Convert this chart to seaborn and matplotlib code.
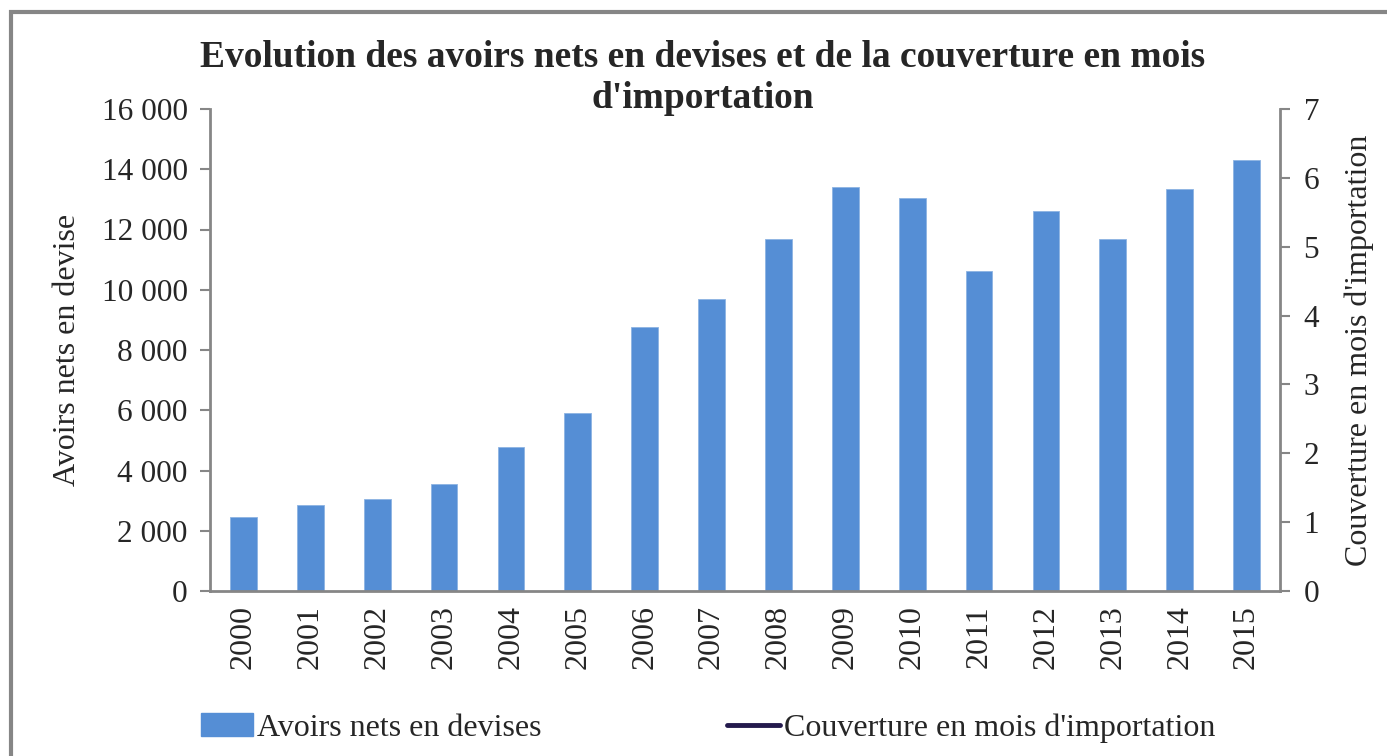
import numpy as np
import pandas as pd
import matplotlib
matplotlib.use("Agg")
import matplotlib.pyplot as plt
from matplotlib.lines import Line2D
from matplotlib.patches import Patch, Rectangle
from matplotlib.ticker import FuncFormatter, MultipleLocator
import seaborn as sns

# Data
years = [str(y) for y in range(2000, 2016)]
avoirs = [2450, 2850, 3050, 3540, 4770, 5900, 8750, 9680,
          11700, 13400, 13050, 10630, 12620, 11700, 13340, 14300]
# coverage series is not visible on the chart, only its legend entry
couverture = []

bar_color = "#558ED5"
axis_gray = "#868686"
line_color = "#241A4D"

sns.set_style("white")
plt.rcParams["font.family"] = ["Liberation Serif", "DejaVu Serif"]

df = pd.DataFrame({"annee": years, "avoirs": avoirs})

fig = plt.figure(figsize=(13.87, 7.56), dpi=100)
ax = fig.add_axes([210 / 1387, 1 - 591 / 756, (1280 - 210) / 1387, (591 - 109) / 756])

sns.barplot(data=df, x="annee", y="avoirs", color=bar_color, width=0.4,
            edgecolor="#8DB3E2", linewidth=0.6, ax=ax, saturation=1)

ax.set_xlim(-0.5, len(years) - 0.5)
ax.set_ylim(0, 16000)
ax.yaxis.set_major_locator(MultipleLocator(2000))
ax.yaxis.set_major_formatter(FuncFormatter(lambda v, p: f"{int(v):,}".replace(",", " ")))
ax.set_xlabel("")
ax.set_ylabel("Avoirs nets en devise", fontsize=23, labelpad=14)

# x ticks between categories like the original
ax.set_xticks(np.arange(len(years)))
ax.set_xticklabels(years, rotation=90, fontsize=23)
ax.set_xticks(np.arange(-0.5, len(years)), minor=True)
ax.tick_params(axis="x", which="major", length=0, pad=10)
ax.tick_params(axis="x", which="minor", length=8, width=2, color=axis_gray, direction="out")
ax.tick_params(axis="y", labelsize=22.5, length=7, width=1.5, color=axis_gray, direction="out", pad=9)

for side in ["top", "right"]:
    ax.spines[side].set_visible(False)
for side in ["left", "bottom"]:
    ax.spines[side].set_color(axis_gray)
    ax.spines[side].set_linewidth(2)

ax2 = ax.twinx()
ax2.set_ylim(0, 7)
ax2.yaxis.set_major_locator(MultipleLocator(1))
ax2.plot(range(len(couverture)), couverture, color=line_color, linewidth=3)
ax2.tick_params(axis="y", labelsize=22.5, length=7, width=1.5, color=axis_gray, direction="out", pad=10)
ax2.set_ylabel("Couverture en mois d'importation", fontsize=23, labelpad=18)
for side in ["top", "left", "bottom"]:
    ax2.spines[side].set_visible(False)
ax2.spines["right"].set_color(axis_gray)
ax2.spines["right"].set_linewidth(2)

fig.text(703 / 1387, 1 - 78 / 756,
         "Evolution des avoirs nets en devises et de la couverture en mois\nd'importation",
         ha="center", va="center", fontsize=27, fontweight="bold", linespacing=1.25)

handles = [Patch(facecolor=bar_color, edgecolor=bar_color),
           Line2D([0], [0], color=line_color, linewidth=3.5)]
fig.legend(handles, ["Avoirs nets en devises", "Couverture en mois d'importation"],
           loc="center left", bbox_to_anchor=(188 / 1387, 1 - 728 / 756), ncol=2,
           frameon=False, fontsize=23, handlelength=1.65, handletextpad=0.12,
           columnspacing=5.8, borderaxespad=0)

# outer chart frame, cut at the right and bottom
fig.patches.append(Rectangle((11 / 1387, -0.05), 1.1, 1 - 12 / 756 + 0.05,
                             transform=fig.transFigure, fill=False,
                             edgecolor=axis_gray, linewidth=3))

fig.savefig("out.png", dpi=100)
